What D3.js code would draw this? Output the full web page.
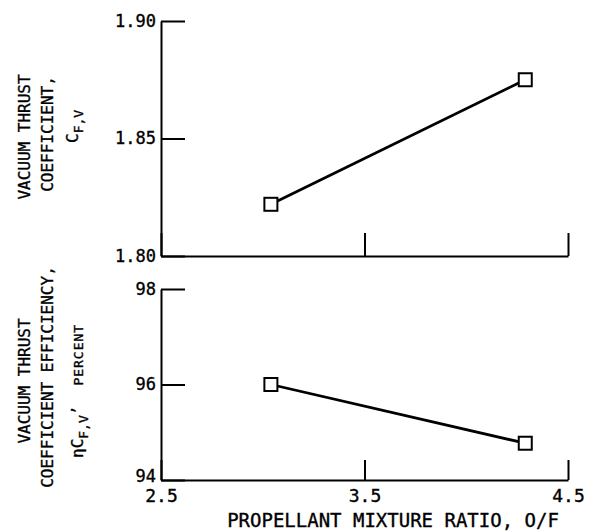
<!DOCTYPE html>
<html>
<head>
<meta charset="utf-8">
<script src="https://cdn.jsdelivr.net/npm/d3@7"></script>
<style>
  body { margin: 0; background: #fff; }
  svg { display: block; }
  text { font-family: "DejaVu Sans Mono", monospace; fill: #000; stroke: #000; stroke-width: 0.35; }
  .domain, .tick line { stroke: #000; stroke-width: 2; }
</style>
</head>
<body>
<svg id="chart" width="590" height="531"></svg>
<script>
// values
var mixtureRatio = [3.04, 4.29];
var thrustCoef = [1.822, 1.875];
var thrustEff = [96.0, 94.77];

var xTicks = [2.5, 3.5, 4.5];
var coefTicks = [1.80, 1.85, 1.90];
var effTicks = [94, 96, 98];

var svg = d3.select('#chart');

var x = d3.scaleLinear().domain([2.5, 4.5]).range([161, 568]);
var yCoef = d3.scaleLinear().domain([1.80, 1.90]).range([256, 21]);
var yEff = d3.scaleLinear().domain([94, 98]).range([480, 289]);

function drawPanel(opts) {
  var g = svg.append('g');

  // x axis along the bottom, ticks pointing up
  var xAxis = d3.axisBottom(x)
    .tickValues(xTicks)
    .tickSizeInner(-opts.xTickLen)
    .tickSizeOuter(0)
    .tickPadding(opts.showX ? 9 : 0)
    .tickFormat(opts.showX ? d3.format('.1f') : function() { return ''; });

  g.append('g')
    .attr('transform', 'translate(0,' + opts.y.range()[0] + ')')
    .call(xAxis)
    .selectAll('text')
    .attr('font-size', 18)
    .attr('font-family', '"DejaVu Sans Mono", monospace');

  // y axis, ticks pointing right into the plot
  var yAxis = d3.axisLeft(opts.y)
    .tickValues(opts.ticks)
    .tickSizeInner(-24)
    .tickSizeOuter(0)
    .tickPadding(5)
    .tickFormat(opts.fmt);

  var yLabels = g.append('g')
    .attr('transform', 'translate(' + x.range()[0] + ',0)')
    .call(yAxis)
    .selectAll('text')
    .attr('font-size', 17)
    .attr('font-family', '"DejaVu Sans Mono", monospace');

  // lowest label sits just above the x tick labels
  if (opts.showX) {
    yLabels.filter(function(d) { return d === opts.ticks[0]; })
      .attr('dy', '0.1em');
  }

  g.selectAll('.domain').attr('stroke-width', 2.2);

  var pts = mixtureRatio.map(function(m, i) { return [m, opts.values[i]]; });

  var line = d3.line()
    .x(function(d) { return x(d[0]); })
    .y(function(d) { return opts.y(d[1]); });

  g.append('path')
    .datum(pts)
    .attr('d', line)
    .attr('fill', 'none')
    .attr('stroke', '#000')
    .attr('stroke-width', 2.8);

  g.selectAll('rect.pt')
    .data(pts)
    .enter()
    .append('rect')
    .attr('class', 'pt')
    .attr('x', function(d) { return x(d[0]) - 6.5; })
    .attr('y', function(d) { return opts.y(d[1]) - 6.5; })
    .attr('width', 13)
    .attr('height', 13)
    .attr('fill', '#fff')
    .attr('stroke', '#000')
    .attr('stroke-width', 2);

  return g;
}

drawPanel({ y: yCoef, ticks: coefTicks, values: thrustCoef, fmt: d3.format('.2f'), xTickLen: 23, showX: false });
drawPanel({ y: yEff, ticks: effTicks, values: thrustEff, fmt: d3.format('d'), xTickLen: 20, showX: true });

// rotated axis titles
function rotLabel(px, py, anchor) {
  return svg.append('text')
    .attr('transform', 'translate(' + px + ',' + py + ') rotate(-90)')
    .attr('text-anchor', anchor)
    .attr('font-size', 16);
}

rotLabel(30, 137, 'middle').text('VACUUM THRUST');
rotLabel(53, 134, 'middle').text('COEFFICIENT,');
var cfv = rotLabel(78, 143, 'start');
cfv.append('tspan').text('C');
cfv.append('tspan').attr('font-size', 13).attr('dy', 5).text('F,V');

rotLabel(30, 381, 'middle').text('VACUUM THRUST');
rotLabel(53, 377, 'middle').text('COEFFICIENT EFFICIENCY,');
var eta = rotLabel(83, 458, 'start');
eta.append('tspan').text('\u03b7C');
eta.append('tspan').attr('font-size', 13).attr('dy', 5).text('F,V');
eta.append('tspan').attr('dy', -5).text('\u2019');
eta.append('tspan').attr('font-size', 13).attr('dx', 20).attr('letter-spacing', 1).text('PERCENT');

svg.append('text')
  .attr('x', 393)
  .attr('y', 527)
  .attr('text-anchor', 'middle')
  .attr('font-size', 19)
  .text('PROPELLANT MIXTURE RATIO, O/F');
</script>
</body>
</html>
